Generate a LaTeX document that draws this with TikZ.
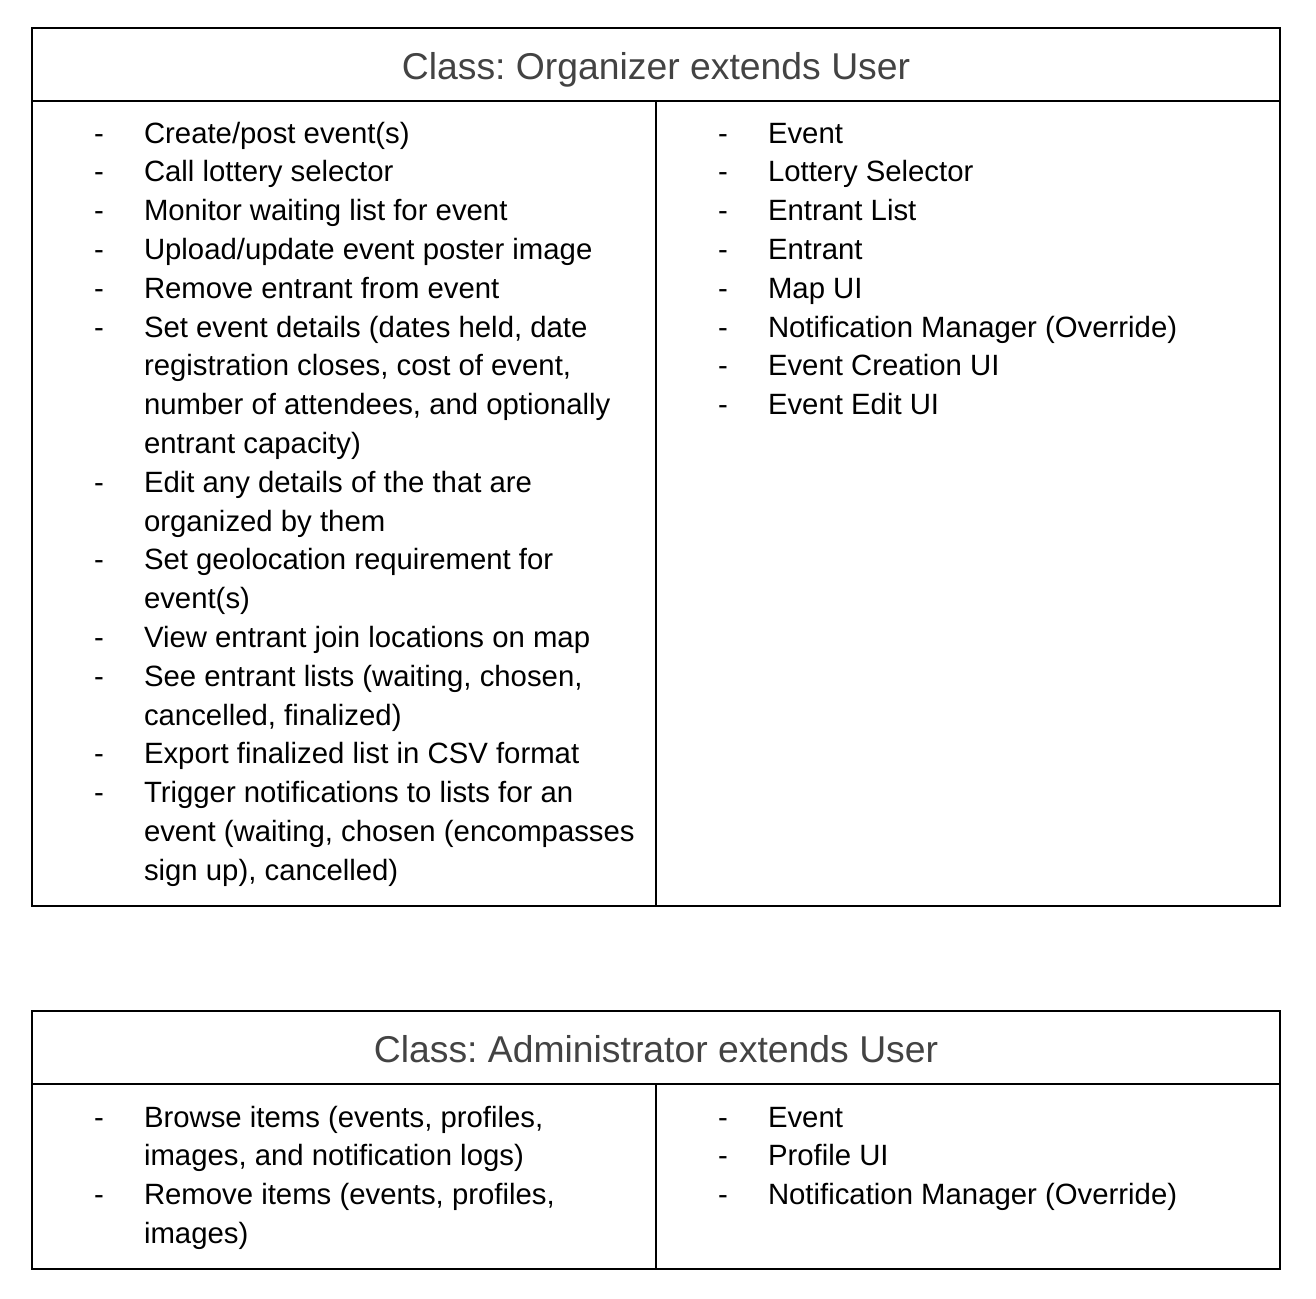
\documentclass[tikz,border=0pt]{standalone}
\usepackage{fontspec}
\setmainfont{Liberation Sans}
\usepackage{tikz}
\usetikzlibrary{calc}
\frenchspacing
\definecolor{titlegray}{HTML}{434343}
\newcommand{\bodyfont}{\fontsize{29.33}{38.8}\selectfont}
\newcommand{\titlefont}{\fontsize{37.33}{44}\selectfont}

\begin{document}
\begin{tikzpicture}[x=1pt, y=-1pt, line width=2pt,
        item/.style={anchor=base west, align=left, inner sep=0pt, font=\bodyfont},
        dashmark/.style={anchor=base west, inner sep=0pt, font=\bodyfont},
        classtitle/.style={anchor=base, inner sep=0pt, font=\titlefont, text=titlegray}]
        \useasboundingbox (0, 0) rectangle (1316, 1298);

        % Organizer table
        \coordinate (OA) at (32, 28);
        \coordinate (OB) at (1280, 906);
        \coordinate (OH) at (32, 101);
        \coordinate (OM) at (656, 101);
        \draw (OA) rectangle (OB);
        \draw (OH) -- (OH -| OB);
        \draw (OM) -- (OM |- OB);
        \node[classtitle] (otitle) at (656, 79) {Class: Organizer extends User};

        \foreach \k in {0,1,2,3,4,5,9,11,13,14,16,17}
            \node[dashmark] (odl\k) at (93, 143 + 38.8*\k) {-};
        \foreach \k in {0,...,7}
            \node[dashmark] (odr\k) at (717, 143 + 38.8*\k) {-};

        % multi-line items sit on the baseline of their last line
        \node[item] (o0) at (143, 143) {Create/post event(s)};
        \node[item] (o1) at (143, 143 + 38.8*1) {Call lottery selector};
        \node[item] (o2) at (143, 143 + 38.8*2) {Monitor waiting list for event};
        \node[item] (o3) at (143, 143 + 38.8*3) {Upload/update event poster image};
        \node[item] (o4) at (143, 143 + 38.8*4) {Remove entrant from event};
        \node[item] (o5) at (143, 143 + 38.8*8) {Set event details (dates held, date\\registration closes, cost of event,\\number of attendees, and optionally\\entrant capacity)};
        \node[item] (o9) at (143, 143 + 38.8*10) {Edit any details of the that are\\organized by them};
        \node[item] (o11) at (143, 143 + 38.8*12) {Set geolocation requirement for\\event(s)};
        \node[item] (o13) at (143, 143 + 38.8*13) {View entrant join locations on map};
        \node[item] (o14) at (143, 143 + 38.8*15) {See entrant lists (waiting, chosen,\\cancelled, finalized)};
        \node[item] (o16) at (143, 143 + 38.8*16) {Export finalized list in CSV format};
        \node[item] (o17) at (143, 143 + 38.8*19) {Trigger notifications to lists for an\\event (waiting, chosen (encompasses\\sign up), cancelled)};

        \node[item] (c0) at (767, 143) {Event};
        \node[item] (c1) at (767, 143 + 38.8*1) {Lottery Selector};
        \node[item] (c2) at (767, 143 + 38.8*2) {Entrant List};
        \node[item] (c3) at (767, 143 + 38.8*3) {Entrant};
        \node[item] (c4) at (767, 143 + 38.8*4) {Map UI};
        \node[item] (c5) at (767, 143 + 38.8*5) {Notification Manager (Override)};
        \node[item] (c6) at (767, 143 + 38.8*6) {Event Creation UI};
        \node[item] (c7) at (767, 143 + 38.8*7) {Event Edit UI};

        % Administrator table
        \coordinate (AA) at (32, 1011);
        \coordinate (AB) at (1280, 1269);
        \coordinate (AH) at (32, 1084);
        \coordinate (AM) at (656, 1084);
        \draw (AA) rectangle (AB);
        \draw (AH) -- (AH -| AB);
        \draw (AM) -- (AM |- AB);
        \node[classtitle] (atitle) at (656, 1062) {Class: Administrator extends User};

        \foreach \k in {0,2}
            \node[dashmark] (adl\k) at (93, 1127 + 38.8*\k) {-};
        \foreach \k in {0,1,2}
            \node[dashmark] (adr\k) at (717, 1127 + 38.8*\k) {-};

        \node[item] (a0) at (143, 1127 + 38.8*1) {Browse items (events, profiles,\\images, and notification logs)};
        \node[item] (a2) at (143, 1127 + 38.8*3) {Remove items (events, profiles,\\images)};

        \node[item] (ac0) at (767, 1127) {Event};
        \node[item] (ac1) at (767, 1127 + 38.8*1) {Profile UI};
        \node[item] (ac2) at (767, 1127 + 38.8*2) {Notification Manager (Override)};
    \end{tikzpicture}
\end{document}
